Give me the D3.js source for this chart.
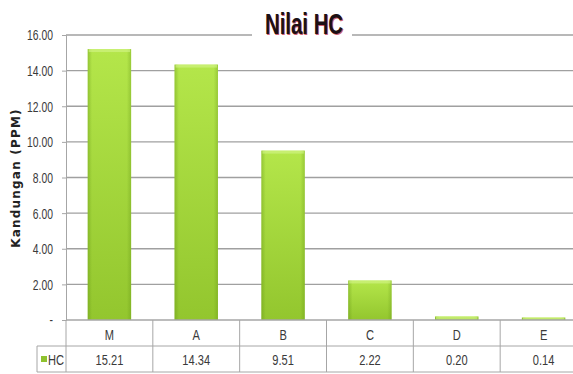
<!DOCTYPE html>
<html>
<head>
<meta charset="utf-8">
<script src="https://cdn.jsdelivr.net/npm/d3@7"></script>
<style>
  html, body { margin: 0; padding: 0; background: #fff; overflow: hidden; }
  svg { display: block; }
  .tick-label, .cell-text { font-family: "Liberation Sans", Arial, sans-serif; fill: #3a3a3a; }
</style>
</head>
<body>
<svg id="chart" width="573" height="374"></svg>
<script>
// HC content per sample
const categories = ["M", "A", "B", "C", "D", "E"];
const hcValues = [15.21, 14.34, 9.51, 2.22, 0.20, 0.14];
const yTicks = [0, 2, 4, 6, 8, 10, 12, 14, 16];
const seriesName = "HC";
const chartTitle = "Nilai HC";
const yTitle = "Kandungan  (PPM)";

const svg = d3.select("#chart");
const W = 573, H = 374;
const plot = { left: 66, right: 587, top: 35, bottom: 320 };
const rowH = 26;
const narrow = 0.74; // horizontal squeeze for the condensed label face

const x = d3.scaleBand().domain(categories).range([plot.left, plot.right]).paddingInner(0.5).paddingOuter(0.25);
const xCell = d3.scaleBand().domain(categories).range([plot.left, plot.right]);
const y = d3.scaleLinear().domain([0, 16]).range([plot.bottom, plot.top]);

// bar fill gradients
const defs = svg.append("defs");
const gV = defs.append("linearGradient").attr("id", "barV").attr("x1", 0).attr("y1", 0).attr("x2", 0).attr("y2", 1);
gV.append("stop").attr("offset", "0%").attr("stop-color", "#b4e64a");
gV.append("stop").attr("offset", "100%").attr("stop-color", "#93c62e");
const gH = defs.append("linearGradient").attr("id", "barH").attr("x1", 0).attr("y1", 0).attr("x2", 1).attr("y2", 0);
gH.append("stop").attr("offset", "0%").attr("stop-color", "#5a8a10").attr("stop-opacity", 0.35);
gH.append("stop").attr("offset", "10%").attr("stop-color", "#5a8a10").attr("stop-opacity", 0);
gH.append("stop").attr("offset", "90%").attr("stop-color", "#5a8a10").attr("stop-opacity", 0);
gH.append("stop").attr("offset", "100%").attr("stop-color", "#5a8a10").attr("stop-opacity", 0.3);

// gridlines
svg.append("g")
  .selectAll("line").data(yTicks.filter(d => d > 0)).join("line")
  .attr("x1", plot.left).attr("x2", W)
  .attr("y1", d => y(d)).attr("y2", d => y(d))
  .attr("stroke", "#a0a0a0").attr("stroke-width", 1.3);

// y axis
const yAxis = d3.axisLeft(y).tickValues(yTicks).tickSize(4)
  .tickFormat(d => d === 0 ? "-" : d3.format(".2f")(d));
const ya = svg.append("g").attr("transform", `translate(${plot.left},0)`).call(yAxis);
ya.select(".domain").attr("stroke", "#a6a6a6");
ya.selectAll(".tick line").attr("stroke", "#a6a6a6");
ya.selectAll(".tick text").attr("class", "tick-label").attr("font-size", 14)
  .attr("x", 0).attr("dy", "0.35em")
  .attr("transform", `translate(-13,0) scale(${narrow},1)`);

// bars
const bars = svg.append("g").selectAll("g").data(categories).join("g");
bars.append("rect")
  .attr("x", d => x(d)).attr("width", x.bandwidth())
  .attr("y", (d, i) => y(hcValues[i])).attr("height", (d, i) => y(0) - y(hcValues[i]))
  .attr("fill", "url(#barV)");
bars.append("rect")
  .attr("x", d => x(d)).attr("width", x.bandwidth())
  .attr("y", (d, i) => y(hcValues[i])).attr("height", (d, i) => y(0) - y(hcValues[i]))
  .attr("fill", "url(#barH)");
bars.append("rect")
  .attr("x", d => x(d) + 1).attr("width", x.bandwidth() - 2)
  .attr("y", (d, i) => y(hcValues[i])).attr("height", (d, i) => Math.min(3, y(0) - y(hcValues[i])))
  .attr("fill", "#d4f58a").attr("opacity", 0.6);

// data table
const tbl = svg.append("g");
const lineColor = "#a6a6a6";
tbl.append("line").attr("x1", plot.left).attr("x2", W).attr("y1", plot.bottom).attr("y2", plot.bottom).attr("stroke", lineColor).attr("stroke-width", 1.3);
tbl.append("line").attr("x1", 37).attr("x2", W).attr("y1", plot.bottom + rowH).attr("y2", plot.bottom + rowH).attr("stroke", lineColor);
tbl.append("line").attr("x1", 37).attr("x2", W).attr("y1", plot.bottom + 2 * rowH).attr("y2", plot.bottom + 2 * rowH).attr("stroke", lineColor);
tbl.append("line").attr("x1", 37).attr("x2", 37).attr("y1", plot.bottom + rowH).attr("y2", plot.bottom + 2 * rowH).attr("stroke", lineColor);
tbl.selectAll("line.sep").data(categories).join("line").attr("class", "sep")
  .attr("x1", d => xCell(d)).attr("x2", d => xCell(d))
  .attr("y1", plot.bottom).attr("y2", plot.bottom + 2 * rowH).attr("stroke", lineColor);
tbl.selectAll("text.cat").data(categories).join("text").attr("class", "cat cell-text")
  .attr("transform", d => `translate(${xCell(d) + xCell.bandwidth() / 2},${plot.bottom + 20}) scale(${narrow},1)`)
  .attr("text-anchor", "middle").attr("font-size", 15).text(d => d);
tbl.selectAll("text.val").data(categories).join("text").attr("class", "val cell-text")
  .attr("transform", d => `translate(${xCell(d) + xCell.bandwidth() / 2},${plot.bottom + rowH + 19}) scale(${narrow},1)`)
  .attr("text-anchor", "middle").attr("font-size", 15).text((d, i) => d3.format(".2f")(hcValues[i]));
// legend key in table
tbl.append("rect").attr("x", 41).attr("y", plot.bottom + rowH + 10).attr("width", 6).attr("height", 6).attr("fill", "#8fc22e");
tbl.append("text").attr("class", "cell-text")
  .attr("transform", `translate(48,${plot.bottom + rowH + 19}) scale(${narrow},1)`)
  .attr("font-size", 15).text(seriesName);

// title with a white backing box over the top gridline
const title = svg.append("g").attr("transform", "translate(304,34)");
title.append("rect").attr("x", -52).attr("y", -26).attr("width", 100).attr("height", 32).attr("fill", "#fff");
title.append("text").attr("text-anchor", "middle").attr("transform", "translate(0.8,0.6) scale(0.68,1)")
  .attr("font-family", "'Liberation Sans', Arial, sans-serif")
  .attr("font-weight", "bold").attr("font-size", 30).attr("fill", "#c02a40").attr("opacity", 0.75)
  .text(chartTitle);
title.append("text").attr("text-anchor", "middle").attr("transform", "scale(0.68,1)")
  .attr("font-family", "'Liberation Sans', Arial, sans-serif")
  .attr("font-weight", "bold").attr("font-size", 30).attr("fill", "#1c1014")
  .text(chartTitle);

// y axis title
svg.append("text").attr("transform", "translate(20,178) rotate(-90)")
  .attr("text-anchor", "middle").attr("font-family", "'DejaVu Sans', sans-serif")
  .attr("font-weight", "bold").attr("font-size", 12).attr("letter-spacing", 1.2).attr("fill", "#222")
  .text(yTitle);
</script>
</body>
</html>
